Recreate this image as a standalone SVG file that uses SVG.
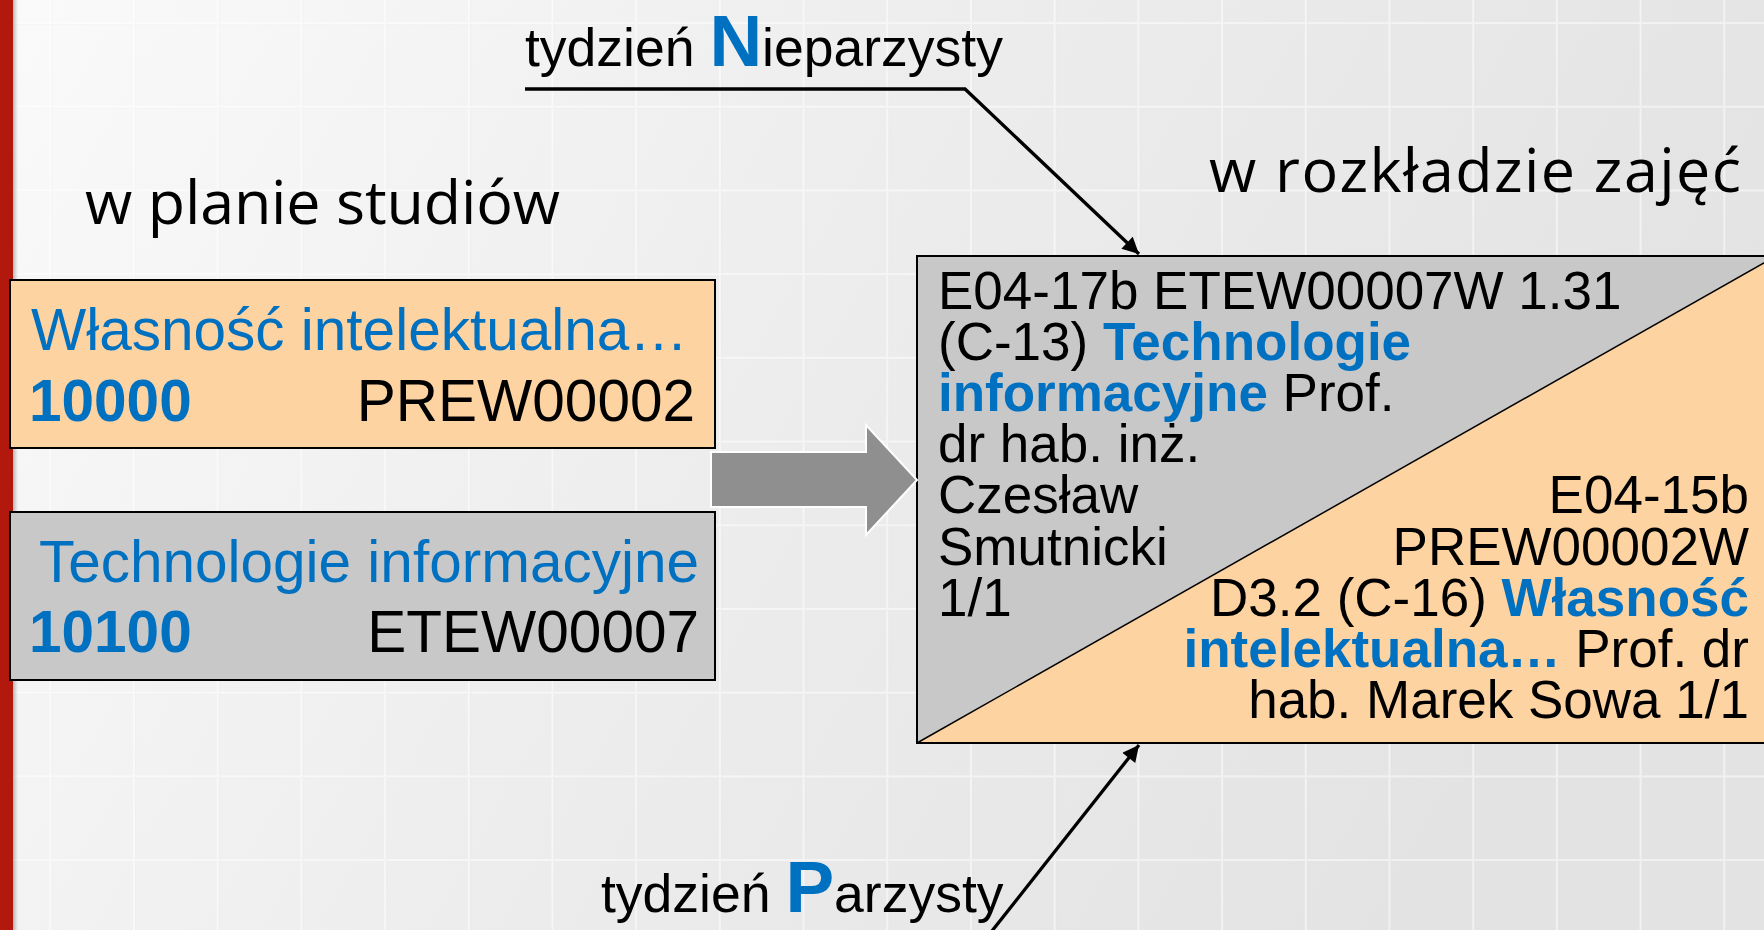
<svg xmlns="http://www.w3.org/2000/svg" width="1764" height="930" viewBox="0 0 1764 930">
  <defs>
    <linearGradient id="bg" x1="0" y1="0" x2="1" y2="0.3">
      <stop offset="0" stop-color="#fafafa"/>
      <stop offset="0.5" stop-color="#ededed"/>
      <stop offset="1" stop-color="#e3e3e3"/>
    </linearGradient>
    <linearGradient id="shadow" x1="0" y1="0" x2="1" y2="0">
      <stop offset="0" stop-color="#000" stop-opacity="0.25"/>
      <stop offset="1" stop-color="#000" stop-opacity="0"/>
    </linearGradient>
    <pattern id="grid" x="-34.4" y="-61.6" width="83.7" height="83.7" patternUnits="userSpaceOnUse">
      <path d="M0,1 H83.7 M1,0 V83.7" stroke="#ffffff" stroke-opacity="0.5" stroke-width="2.5" fill="none"/>
      <path d="M0,2.6 H83.7 M2.6,0 V83.7" stroke="#000" stroke-opacity="0.015" stroke-width="1" fill="none"/>
    </pattern>
    <marker id="ah" viewBox="0 0 10 10" refX="10" refY="5" markerWidth="6" markerHeight="5" orient="auto" markerUnits="strokeWidth">
      <path d="M0,0 L10,5 L0,10 z" fill="#000"/>
    </marker>
    <style>
      .t { font-family: "Liberation Sans", Arial, sans-serif; fill: #000; }
      .title { font-family: "Open Sans", "DejaVu Sans", sans-serif; font-size: 61px; fill: #000; }
      .blue { fill: #0070c0; }
      .b { font-weight: bold; }
      .box { stroke: #000; stroke-width: 2; }
      .orange { fill: #fdd3a2; }
      .gray { fill: #c8c8c8; }
      .conn { stroke: #000; stroke-width: 3.3; fill: none; }
    </style>
  </defs>

  <rect x="0" y="0" width="1764" height="930" fill="url(#bg)"/>
  <rect x="0" y="0" width="1764" height="930" fill="url(#grid)"/>
  <rect x="13" y="0" width="5" height="930" fill="url(#shadow)"/>
  <rect x="0" y="0" width="13" height="930" fill="#b2190c"/>

  <g id="title-plan">
    <text class="title" x="85" y="224" textLength="475">w planie studiów</text>
  </g>
  <g id="title-rozklad">
    <text class="title" x="1209" y="192" font-size="62" textLength="532">w rozkładzie zajęć</text>
  </g>

  <g id="box-wlasnosc">
    <rect class="box orange" x="10" y="280" width="705" height="168"/>
    <text class="t blue" x="31" y="350" font-size="58.5">Własność intelektualna…</text>
    <text class="t blue b" x="29" y="421" font-size="58.5">10000</text>
    <text class="t" x="695" y="421" font-size="58.5" text-anchor="end">PREW00002</text>
  </g>

  <g id="box-tech">
    <rect class="box gray" x="10" y="512" width="705" height="168"/>
    <text class="t blue" x="699" y="582" font-size="58.5" text-anchor="end">Technologie informacyjne</text>
    <text class="t blue b" x="29" y="652" font-size="58.5">10100</text>
    <text class="t" x="699" y="652" font-size="58.5" text-anchor="end">ETEW00007</text>
  </g>

  <g id="schedule">
    <rect class="gray" x="917" y="256" width="860" height="487"/>
    <polygon class="orange" points="917,743 1776,256 1780,256 1780,743"/>
    <line x1="917" y1="743" x2="1776" y2="256" stroke="#000" stroke-width="1.5"/>
    <path d="M1780,256 H917 V743 H1780" stroke="#000" stroke-width="2" fill="none"/>
    <g class="t" font-size="53">
      <text x="938" y="309">E04-17b ETEW00007W 1.31</text>
      <text x="938" y="360">(C-13) <tspan class="blue b">Technologie</tspan></text>
      <text x="938" y="411"><tspan class="blue b">informacyjne</tspan> Prof.</text>
      <text x="938" y="462">dr hab. inż.</text>
      <text x="938" y="513">Czesław</text>
      <text x="938" y="565">Smutnicki</text>
      <text x="938" y="616">1/1</text>
      <text x="1749" y="513" text-anchor="end">E04-15b</text>
      <text x="1749" y="565" text-anchor="end">PREW00002W</text>
      <text x="1749" y="616" text-anchor="end">D3.2 (C-16) <tspan class="blue b">Własność</tspan></text>
      <text x="1749" y="667" text-anchor="end"><tspan class="blue b">intelektualna…</tspan> Prof. dr</text>
      <text x="1749" y="718" text-anchor="end">hab. Marek Sowa 1/1</text>
    </g>
  </g>

  <g id="label-nieparzysty">
    <text class="t" x="525" y="66" font-size="53.5">tydzień <tspan class="blue b" font-size="73">N</tspan>ieparzysty</text>
  </g>
  <g id="label-parzysty">
    <text class="t" x="601" y="912" font-size="53.5">tydzień <tspan class="blue b" font-size="73">P</tspan>arzysty</text>
  </g>

  <g id="connectors">
    <polygon points="711,452 866,452 866,425 917,480 866,535 866,507 711,507" fill="#8f8f8f" stroke="#ffffff" stroke-width="2" stroke-linejoin="miter"/>
    <polyline class="conn" points="525,89 965,89 1139,254" marker-end="url(#ah)"/>
    <line class="conn" x1="988" y1="936" x2="1139" y2="745" marker-end="url(#ah)"/>
  </g>
</svg>
